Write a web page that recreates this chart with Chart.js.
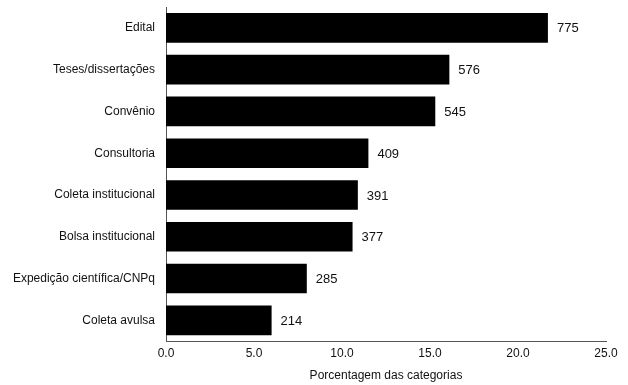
<!DOCTYPE html>
<html>
<head>
<meta charset="utf-8">
<script src="https://cdn.jsdelivr.net/npm/chart.js@4"></script>
<style>
  html, body { margin: 0; padding: 0; background: #fff; }
  #wrap { width: 628px; height: 385px; position: relative; }
</style>
</head>
<body>
<div id="wrap"><canvas id="chart"></canvas></div>
<script>
/* ── Datos ───────────────────────────────────── */
const categorias = [
  "Edital",
  "Teses/dissertações",
  "Convênio",
  "Consultoria",
  "Coleta institucional",
  "Bolsa institucional",
  "Expedição científica/CNPq",
  "Coleta avulsa",
];
const porcentagens = [21.7, 16.1, 15.3, 11.5, 10.9, 10.6, 8.0, 6.0];
const contagens = [775, 576, 545, 409, 391, 377, 285, 214];
const xTicks = [0, 5, 10, 15, 20, 25];

const fonte = "'Liberation Sans', Arial, sans-serif";

/* ── Etiquetas de valor ──────────────────────── */
const valueLabels = {
  id: "valueLabels",
  afterDatasetsDraw(chart) {
    const { ctx } = chart;
    const meta = chart.getDatasetMeta(0);
    ctx.save();
    ctx.fillStyle = "#111";
    ctx.font = "13px " + fonte;
    ctx.textBaseline = "middle";
    ctx.textAlign = "left";
    meta.data.forEach((bar, i) => {
      ctx.fillText(String(contagens[i]), bar.x + 9, bar.y + 1);
    });
    ctx.restore();
  },
};

const ctx = document.getElementById("chart").getContext("2d");
new Chart(ctx, {
  type: "bar",
  data: {
    labels: categorias,
    datasets: [
      {
        data: porcentagens,
        backgroundColor: "#000",
        borderColor: "#000",
        borderWidth: 0,
        categoryPercentage: 1,
        barPercentage: 0.71,
      },
    ],
  },
  options: {
    indexAxis: "y",
    responsive: true,
    maintainAspectRatio: false,
    animation: false,
    layout: { padding: { top: 7, right: 22, left: 4, bottom: 2 } },
    scales: {
      x: {
        min: 0,
        max: 25,
        afterBuildTicks: (axis) => { axis.ticks = xTicks.map((v) => ({ value: v })); },
        grid: { display: false, drawTicks: true, tickLength: 5, color: "#555" },
        border: { display: true, color: "#555", width: 1 },
        ticks: {
          color: "#111",
          font: { family: fonte, size: 12 },
          padding: 0,
          maxRotation: 0,
          callback: (v) => Number(v).toFixed(1),
        },
        title: {
          display: true,
          text: "Porcentagem das categorias",
          color: "#111",
          font: { family: fonte, size: 12 },
          padding: { top: 8, bottom: 0 },
        },
      },
      y: {
        grid: { display: false, drawTicks: false },
        border: { display: true, color: "#555", width: 1 },
        afterFit: (axis) => {
          axis.width = 162;
          axis.paddingTop = 0;
          axis.paddingBottom = 0;
        },
        ticks: {
          color: "#111",
          font: { family: fonte, size: 12 },
          padding: 11,
        },
      },
    },
    plugins: {
      legend: { display: false },
      tooltip: { enabled: false },
    },
  },
  plugins: [valueLabels],
});
</script>
</body>
</html>
